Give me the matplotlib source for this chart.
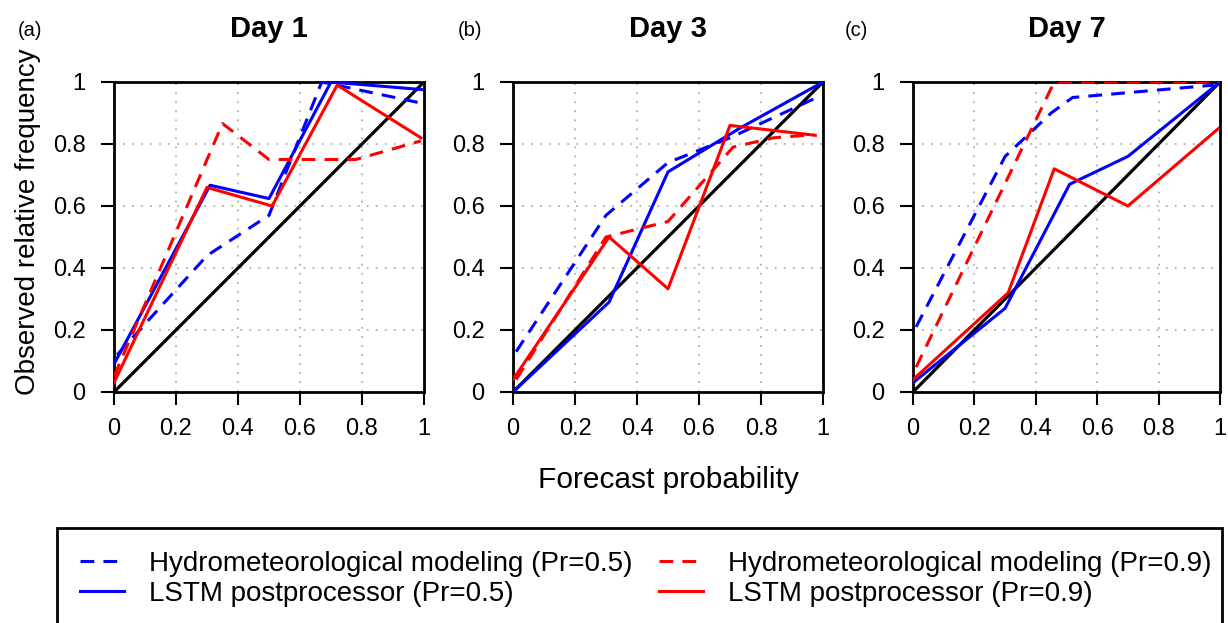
import matplotlib.pyplot as plt
from matplotlib.patches import Rectangle

plt.rcParams['font.family'] = ['Liberation Sans', 'DejaVu Sans']

titles = ['Day 1', 'Day 3', 'Day 7']
panel_tags = ['(a)', '(b)', '(c)']

hydro05_x = [[0.01, 0.3, 0.5, 0.67, 1.0],
             [0.01, 0.3, 0.5, 0.7, 0.98],
             [0.01, 0.3, 0.45, 0.52, 0.98]]
hydro05_y = [[0.12, 0.44, 0.57, 1.0, 0.93],
             [0.13, 0.57, 0.74, 0.82, 0.95],
             [0.21, 0.76, 0.9, 0.95, 0.99]]

lstm05_x = [[0.0, 0.31, 0.5, 0.7, 1.0],
            [0.0, 0.31, 0.5, 0.73, 1.0],
            [0.0, 0.3, 0.51, 0.7, 1.0]]
lstm05_y = [[0.09, 0.667, 0.624, 1.0, 0.975],
            [0.0, 0.29, 0.71, 0.85, 1.0],
            [0.03, 0.27, 0.67, 0.76, 1.0]]

hydro09_x = [[0.0, 0.35, 0.5, 0.78, 0.99],
             [0.01, 0.3, 0.5, 0.71, 0.84, 0.97],
             [0.01, 0.46, 0.7, 1.0]]
hydro09_y = [[0.05, 0.866, 0.75, 0.75, 0.81],
             [0.04, 0.5, 0.55, 0.79, 0.82, 0.83],
             [0.08, 1.0, 1.0, 1.0]]

lstm09_x = [[0.0, 0.3, 0.51, 0.72, 0.99],
            [0.0, 0.31, 0.5, 0.7, 0.975],
            [0.0, 0.31, 0.46, 0.7, 0.995]]
lstm09_y = [[0.03, 0.66, 0.60, 0.99, 0.82],
            [0.04, 0.5, 0.333, 0.86, 0.828],
            [0.04, 0.32, 0.72, 0.60, 0.85]]

ticks = [0, 0.2, 0.4, 0.6, 0.8, 1]
tick_labels = ['0', '0.2', '0.4', '0.6', '0.8', '1']

fig = plt.figure(figsize=(12.28, 6.23), dpi=100)
W, H = 1228, 623
lefts = [114, 513, 913]
widths = [310, 310, 307]
tag_x = [18, 458, 845]
dash = (0, (4.5, 3))

for i in range(3):
    ax = fig.add_axes([lefts[i] / W, 1 - 392 / H, widths[i] / W, 310 / H])
    ax.grid(True, color='#b0b0b0', linestyle=(0, (1, 4)), linewidth=1.3)
    ax.plot([0, 1], [0, 1], color='black', lw=2.3, zorder=2)
    ax.plot(hydro05_x[i], hydro05_y[i], color='blue', lw=2.2, ls=dash,
            label='Hydrometeorological modeling (Pr=0.5)', zorder=3)
    ax.plot(lstm05_x[i], lstm05_y[i], color='blue', lw=2.2,
            label='LSTM postprocessor (Pr=0.5)', zorder=3)
    ax.plot(hydro09_x[i], hydro09_y[i], color='red', lw=2.2, ls=dash,
            label='Hydrometeorological modeling (Pr=0.9)', zorder=3)
    ax.plot(lstm09_x[i], lstm09_y[i], color='red', lw=2.2,
            label='LSTM postprocessor (Pr=0.9)', zorder=3)
    ax.set_xlim(0, 1)
    ax.set_ylim(0, 1)
    ax.set_xticks(ticks)
    ax.set_xticklabels(tick_labels)
    ax.set_yticks(ticks)
    ax.set_yticklabels(tick_labels)
    ax.tick_params(direction='out', length=9.5, width=1.5, labelsize=17)
    ax.tick_params(axis='x', pad=9)
    ax.tick_params(axis='y', pad=11)
    for s in ax.spines.values():
        s.set_linewidth(2)
    fig.text((lefts[i] + widths[i] / 2) / W, 1 - 37 / H, titles[i],
             fontsize=21, fontweight='bold', ha='center', va='baseline')
    fig.text(tag_x[i] / W, 1 - 30 / H, panel_tags[i], fontsize=14.5,
             ha='left', va='center')
    if i == 0:
        handles, labels = ax.get_legend_handles_labels()

fig.text(28 / W, 1 - 222 / H, 'Observed relative frequency', fontsize=20,
         rotation=90, ha='center', va='center')
fig.text(668 / W, 1 - 488 / H, 'Forecast probability', fontsize=21.5,
         ha='center', va='baseline')

# Caja de la leyenda
fig.patches.append(Rectangle((57 / W, -0.01), (1222 - 57) / W, (623 - 528) / H + 0.01,
                             transform=fig.transFigure, fill=False,
                             edgecolor='black', lw=2))
fig.legend(handles, labels, ncol=2, frameon=False, fontsize=20,
           loc='upper left', bbox_to_anchor=(80 / W, 1 - 551 / H),
           borderpad=0, borderaxespad=0,
           handlelength=1.6, handletextpad=0.9, columnspacing=0.93,
           labelspacing=0.15)

fig.savefig('out.png', dpi=100)
